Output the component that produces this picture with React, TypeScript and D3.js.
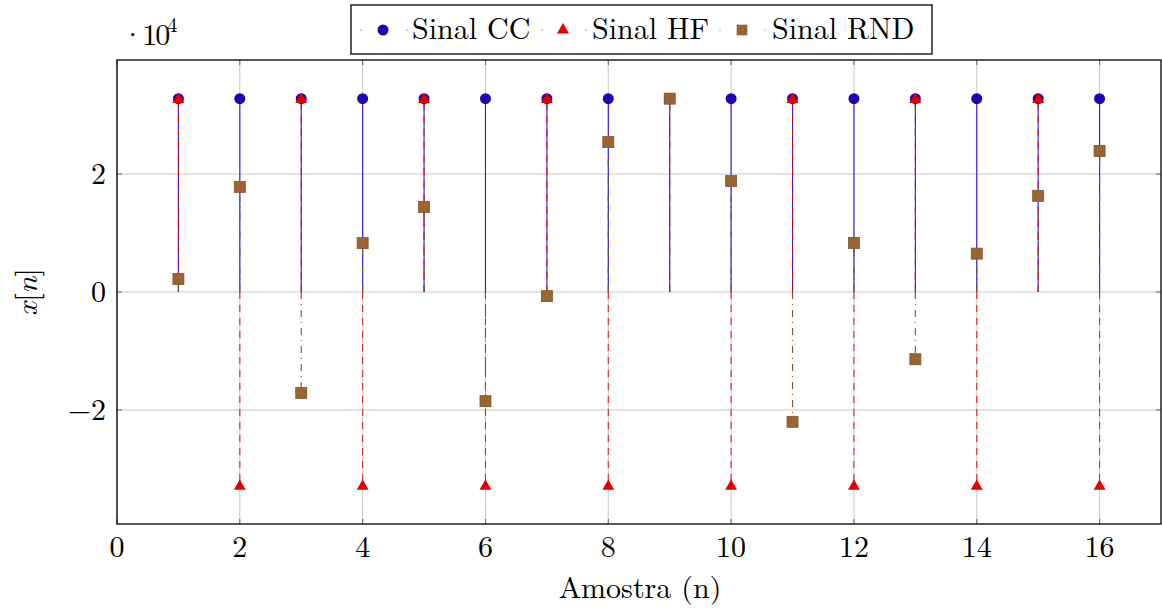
import React from "react";
import * as d3 from "d3";

const samples = [1, 2, 3, 4, 5, 6, 7, 8, 9, 10, 11, 12, 13, 14, 15, 16];
const sinalCC = [32767, 32767, 32767, 32767, 32767, 32767, 32767, 32767, 32767, 32767, 32767, 32767, 32767, 32767, 32767, 32767];
const sinalHF = [32767, -32768, 32767, -32768, 32767, -32768, 32767, -32768, 32767, -32768, 32767, -32768, 32767, -32768, 32767, -32768];
const sinalRND = [2200, 17800, -17100, 8300, 14400, -18500, -700, 25400, 32767, 18800, -22000, 8300, -11400, 6500, 16300, 23900];
const xTicks = [0, 2, 4, 6, 8, 10, 12, 14, 16];
const yTicks = [-20000, 0, 20000];
const yTickLabels = ["\u22122", "0", "2"];
const legendLabels = ["Sinal CC", "Sinal HF", "Sinal RND"];

const W = 1162, H = 613;
const L = 117, R = 1161, T = 60, B = 524;
const FONT = `"Latin Modern Roman", "CMU Serif", "Liberation Serif", serif`;
const FS = 30;

const CC_COLOR = "#2400b0";
const CC_LINE = "#3316e0";
const HF_COLOR = "#e00000";
const RND_COLOR = "#9a6533";
const RND_EDGE = "#7f5428";

export default function App() {
  const x = d3.scaleLinear().domain([0, 17]).range([L, R]);
  const y = d3.scaleLinear().domain([-39320, 39320]).range([B, T]);
  const tri = d3.symbol().type(d3.symbolTriangle).size(62)();

  const legendLayout = [
    { mx: 383, tx: 412, kind: "cc" },
    { mx: 563, tx: 592, kind: "hf" },
    { mx: 742, tx: 772, kind: "rnd" },
  ];
  const ly = 30;

  return (
    <svg width={W} height={H} style={{ position: "absolute", left: 0, top: 0, background: "#fff", fontFamily: FONT }}>
      <defs>
        <clipPath id="plot">
          <rect x={L} y={T} width={R - L} height={B - T} />
        </clipPath>
      </defs>
      {xTicks.map((t) => (
        <line key={"gx" + t} x1={x(t)} x2={x(t)} y1={T} y2={B} stroke="#c8c8c8" strokeWidth={1} />
      ))}
      {yTicks.map((t) => (
        <line key={"gy" + t} x1={L} x2={R} y1={y(t)} y2={y(t)} stroke="#c8c8c8" strokeWidth={1} />
      ))}
      {xTicks.map((t) => (
        <g key={"tx" + t}>
          <line x1={x(t)} x2={x(t)} y1={B} y2={B - 5} stroke="#666" strokeWidth={1} />
          <line x1={x(t)} x2={x(t)} y1={T} y2={T + 5} stroke="#666" strokeWidth={1} />
        </g>
      ))}
      {yTicks.map((t) => (
        <g key={"ty" + t}>
          <line x1={L} x2={L + 5} y1={y(t)} y2={y(t)} stroke="#666" strokeWidth={1} />
          <line x1={R} x2={R - 5} y1={y(t)} y2={y(t)} stroke="#666" strokeWidth={1} />
        </g>
      ))}
      <g clipPath="url(#plot)">
        {samples.map((n, i) => (
          <line key={"scc" + n} x1={x(n)} x2={x(n)} y1={y(0)} y2={y(sinalCC[i])} stroke={CC_LINE} strokeWidth={1.1} />
        ))}
        {samples.map((n, i) => (
          <line key={"shf" + n} x1={x(n)} x2={x(n)} y1={y(0)} y2={y(sinalHF[i])} stroke={HF_COLOR} strokeOpacity={0.85} strokeWidth={1.1} strokeDasharray="7 6" />
        ))}
        {samples.map((n, i) => (
          <line key={"srnd" + n} x1={x(n)} x2={x(n)} y1={y(0)} y2={y(sinalRND[i])} stroke={RND_EDGE} strokeWidth={1.1} strokeDasharray="7 5 1 5" />
        ))}
        {samples.map((n, i) => (
          <circle key={"mcc" + n} cx={x(n)} cy={y(sinalCC[i])} r={5.5} fill={CC_COLOR} />
        ))}
        {samples.map((n, i) => (
          <path key={"mhf" + n} d={tri} transform={`translate(${x(n)},${y(sinalHF[i]) + 1})`} fill={HF_COLOR} />
        ))}
        {samples.map((n, i) => (
          <rect key={"mrnd" + n} x={x(n) - 5.5} y={y(sinalRND[i]) - 5.5} width={11} height={11} fill={RND_COLOR} stroke={RND_EDGE} strokeWidth={0.8} />
        ))}
      </g>
      <rect x={L} y={T} width={R - L} height={B - T} fill="none" stroke="#000" strokeWidth={1.3} />
      {xTicks.map((t) => (
        <text key={"lx" + t} x={x(t)} y={557} textAnchor="middle" fontSize={FS} fill="#000">{t}</text>
      ))}
      {yTicks.map((t, i) => (
        <text key={"ly" + t} x={106} y={y(t) + 10} textAnchor="end" fontSize={FS} fill="#000">{yTickLabels[i]}</text>
      ))}
      <text x={121} y={45} fontSize={FS} fill="#000" letterSpacing={-2}>·10</text>
      <text x={167} y={32} fontSize={21} fill="#000">4</text>
      <text x={640} y={598} textAnchor="middle" fontSize={FS} fill="#000">Amostra (n)</text>
      <text transform={`translate(37,${y(0)}) rotate(-90)`} textAnchor="middle" fontSize={FS} fill="#000">
        <tspan fontStyle="italic">x</tspan>
        <tspan>[</tspan>
        <tspan fontStyle="italic">n</tspan>
        <tspan>]</tspan>
      </text>
      <rect x={351} y={5} width={581} height={49} fill="#fff" stroke="#000" strokeWidth={1.3} />
      {legendLayout.map((it, k) => (
        <g key={legendLabels[k]}>
          {it.kind === "cc" && (
            <g>
              <circle cx={it.mx - 22} cy={ly} r={0.6} fill={CC_LINE} />
              <circle cx={it.mx + 24} cy={ly} r={0.6} fill={CC_LINE} />
              <circle cx={it.mx} cy={ly} r={5.5} fill={CC_COLOR} />
            </g>
          )}
          {it.kind === "hf" && (
            <g>
              <circle cx={it.mx - 21} cy={ly} r={0.6} fill={HF_COLOR} />
              <circle cx={it.mx + 23} cy={ly} r={0.6} fill={HF_COLOR} />
              <path d={tri} transform={`translate(${it.mx},${ly})`} fill={HF_COLOR} />
            </g>
          )}
          {it.kind === "rnd" && (
            <g>
              <circle cx={it.mx - 22} cy={ly} r={0.6} fill={RND_EDGE} />
              <circle cx={it.mx + 23} cy={ly} r={0.6} fill={RND_EDGE} />
              <rect x={it.mx - 5} y={ly - 5} width={10} height={10} fill={RND_COLOR} stroke={RND_EDGE} strokeWidth={0.6} />
            </g>
          )}
          <text x={it.tx} y={ly + 9} fontSize={FS} fill="#000">{legendLabels[k]}</text>
        </g>
      ))}
    </svg>
  );
}
